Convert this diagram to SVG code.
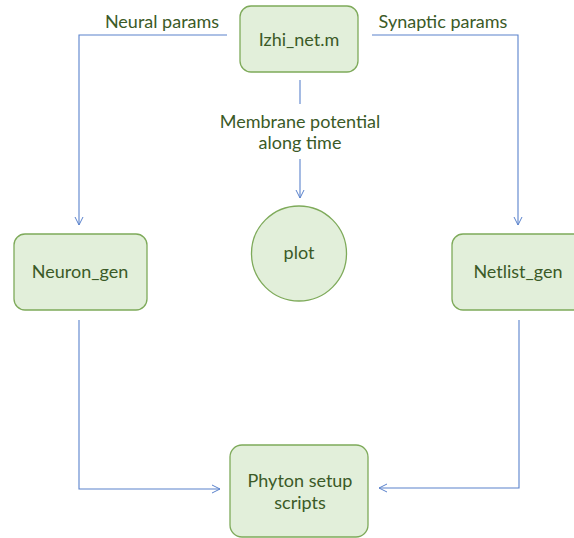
<svg xmlns="http://www.w3.org/2000/svg" width="574" height="538" viewBox="0 0 574 538">
  <defs>
    <marker id="arrow" viewBox="0 0 10 10" refX="9" refY="5" markerWidth="10" markerHeight="10" markerUnits="userSpaceOnUse" orient="auto">
      <path d="M1,1 L9,5 L1,9" fill="none" stroke="#5a82cc" stroke-width="1"/>
    </marker>
  </defs>
  <style>
    .node { fill: #e2efda; stroke: #7eaa5a; stroke-width: 1.3; }
    .label { font-family: Lato, "Liberation Sans", sans-serif; font-size: 18px; fill: #3b5a27; text-anchor: middle; }
    .conn { fill: none; stroke: #5a82cc; stroke-width: 1.1; }
  </style>
  <rect width="574" height="538" fill="#ffffff"/>

  <g id="connectors">
    <path class="conn" d="M227,35 H79 V225" marker-end="url(#arrow)"/>
    <path class="conn" d="M372,35 H518 V225" marker-end="url(#arrow)"/>
    <path class="conn" d="M300,80 V104"/>
    <path class="conn" d="M300,159 V198" marker-end="url(#arrow)"/>
    <path class="conn" d="M79,320 V489 H220" marker-end="url(#arrow)"/>
    <path class="conn" d="M519,320 V488 H379" marker-end="url(#arrow)"/>
    <text class="label" x="162" y="28">Neural params</text>
    <text class="label" x="443" y="28">Synaptic params</text>
    <text class="label" x="300" y="128">Membrane potential</text>
    <text class="label" x="300" y="149">along time</text>
  </g>

  <g id="izhi_net">
    <rect class="node" x="240" y="6" width="118" height="66" rx="11"/>
    <text class="label" x="299" y="46">Izhi_net.m</text>
  </g>

  <g id="neuron_gen">
    <rect class="node" x="14" y="234" width="133" height="76" rx="11"/>
    <text class="label" x="80" y="278">Neuron_gen</text>
  </g>

  <g id="netlist_gen">
    <rect class="node" x="452" y="234" width="133" height="76" rx="11"/>
    <text class="label" x="518" y="278">Netlist_gen</text>
  </g>

  <g id="plot">
    <circle class="node" cx="299" cy="253.5" r="47.5"/>
    <text class="label" x="299" y="259">plot</text>
  </g>

  <g id="phyton_setup">
    <rect class="node" x="230" y="445" width="138" height="92" rx="12"/>
    <text class="label" x="300" y="487">Phyton setup</text>
    <text class="label" x="300" y="509">scripts</text>
  </g>
</svg>
